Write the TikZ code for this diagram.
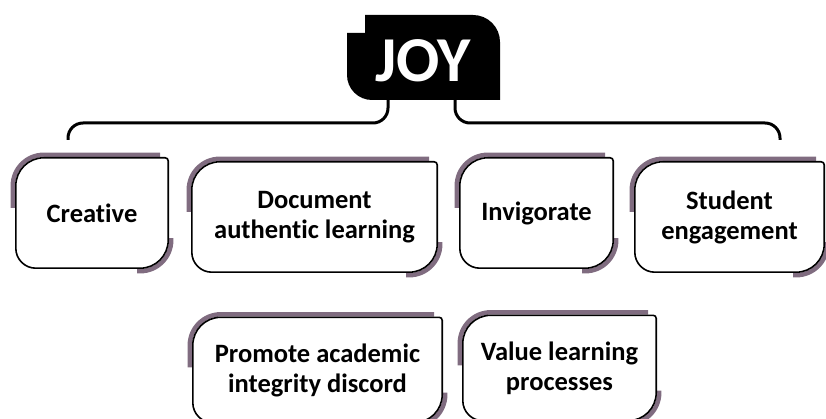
\documentclass[tikz,border=0pt]{standalone}
\usepackage{fontspec}
\setmainfont{Carlito}[Ligatures=NoCommon]
\usetikzlibrary{calc,backgrounds}
\definecolor{shade}{RGB}{128,108,128}
\tikzset{
  x=1pt, y=1pt,
  card/.style={inner sep=0pt, align=center, font=\fontsize{26.5}{30}\selectfont\bfseries},
  cardline/.style={draw=black, line width=1.6pt, fill=white},
  shadowline/.style={draw=shade, line width=4.5pt},
  brace/.style={draw=black, line width=3pt},
  joytext/.style={inner sep=0pt, text=white, font=\fontsize{64}{64}\selectfont\bfseries},
}
\newcommand\cardshape[2][0]{%
  \begin{scope}[yshift=#1]
  \draw[shadowline] ($(#2.north west)+(-3,-50)$) -- ($(#2.north west)+(-3,-28)$)
     arc[start angle=180,end angle=90,radius=31] -- ($(#2.north east)+(-8,3)$);
  \draw[shadowline] ($(#2.south east)+(3,30)$) -- ($(#2.south east)+(3,28)$)
     arc[start angle=0,end angle=-90,radius=31] -- ($(#2.south east)+(-31,-3)$);
  \draw[cardline] ($(#2.south west)+(0,20)$) -- ($(#2.north west)+(0,-28)$)
     arc[start angle=180,end angle=90,radius=28] -- ($(#2.north east)+(-3,0)$)
     arc[start angle=90,end angle=0,radius=3] -- ($(#2.south east)+(0,28)$)
     arc[start angle=0,end angle=-90,radius=28] -- ($(#2.south west)+(20,0)$)
     arc[start angle=270,end angle=180,radius=20] -- cycle;
  \end{scope}
}
\begin{document}
\begin{tikzpicture}
\useasboundingbox (0,0) rectangle (826,-419);
% nodes
\node[joytext] (joy) at (423,-61) {JOY};
\node[card, minimum width=152pt, minimum height=110pt] (creative) at (92,-213) {Creative};
\node[card, minimum width=245pt, minimum height=110pt] (document) at (314.5,-217) {Document\\authentic learning};
\node[card, minimum width=153pt, minimum height=110pt] (invigorate) at (536.5,-213) {Invigorate};
\node[card, minimum width=189pt, minimum height=110pt] (student) at (729.5,-217) {Student\\engagement};
\node[card, minimum width=249pt, minimum height=105pt] (promote) at (317.5,-370) {Promote academic\\integrity discord};
\node[card, minimum width=193pt, minimum height=105pt] (value) at (559.5,-368) {Value learning\\processes};
\coordinate (jl) at (388,-100);
\coordinate (jr) at (455,-100);
\coordinate (bl) at (68,-140);
\coordinate (br) at (780,-140);
\begin{scope}[on background layer]
  \draw[brace] (bl) -- (68,-138) arc[start angle=180,end angle=90,radius=15]
     -- (373,-123) arc[start angle=-90,end angle=0,radius=15] -- (jl);
  \draw[brace] (jr) -- (455,-108) arc[start angle=180,end angle=270,radius=15]
     -- (765,-123) arc[start angle=90,end angle=0,radius=15] -- (br);
  \fill[black] (365,-15) -- (473,-15) arc[start angle=90,end angle=0,radius=27]
     -- (500,-100) -- (372,-100) arc[start angle=270,end angle=180,radius=25]
     -- (347,-33) -- (365,-33) -- cycle;
  \cardshape{creative}
  \cardshape[4pt]{document}
  \cardshape{invigorate}
  \cardshape[4pt]{student}
  \cardshape[5.5pt]{promote}
  \cardshape[3.5pt]{value}
\end{scope}
\end{tikzpicture}
\end{document}
